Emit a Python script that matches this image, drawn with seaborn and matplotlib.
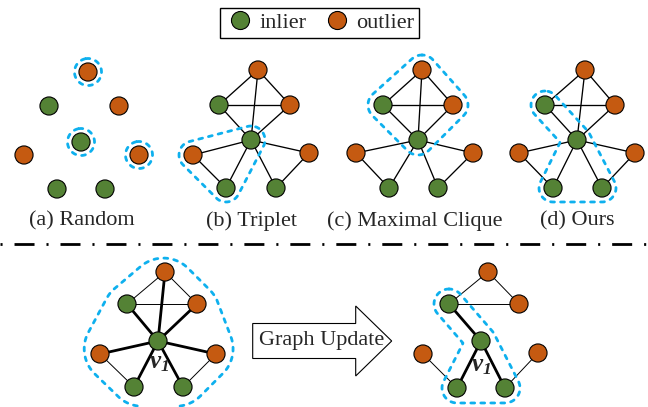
import numpy as np
import pandas as pd
import matplotlib
matplotlib.use("Agg")
import matplotlib.pyplot as plt
import seaborn as sns
from matplotlib.lines import Line2D
from matplotlib.patches import FancyArrow
from matplotlib.path import Path

# node order in every graph:
# top, upper-left, upper-right, centre, left, right, bottom-left, bottom-right
node_kind = ["outlier", "inlier", "outlier", "inlier", "outlier", "outlier", "inlier", "inlier"]

random_x = [88, 49, 119, 81, 24, 139, 57, 105]
random_y = [72, 106, 106, 142, 155, 155, 189, 189]
triplet_x = [258, 219, 290, 251, 193, 309, 226, 276]
triplet_y = [70, 105, 105, 140, 155, 153, 188, 188]
clique_x = [422, 383, 453, 418, 356, 473, 389, 438]
clique_y = [70, 105, 105, 140, 153, 153, 188, 188]
ours_x = [585, 545, 615, 577, 519, 635, 553, 602]
ours_y = [70, 105, 105, 140, 153, 153, 188, 188]
before_x = [165, 127, 197, 158, 100, 216, 134, 183]
before_y = [272, 304, 304, 341, 354, 354, 387, 387]
after_x = [488, 449, 519, 481, 423, 538, 457, 505]
after_y = [272, 304, 304, 341, 354, 353, 388, 388]

full_edges = [(0, 1), (0, 2), (1, 2), (0, 3), (1, 3), (2, 3), (3, 4), (3, 5), (3, 6), (3, 7), (4, 6), (5, 7)]
after_thin_edges = [(0, 1), (0, 2), (1, 2), (4, 6), (5, 7)]
after_bold_edges = [(1, 3), (3, 6), (3, 7)]

# node groups wrapped by the dashed outline (1 = point, 2 = segment, 3+ = filled polygon)
random_sel = [(0,), (3,), (5,)]
triplet_sel = [(3, 4, 6)]
clique_sel = [(0, 1, 3, 2)]
ours_sel = [(1, 3), (3, 6, 7)]
before_sel = [(0, 1, 4, 6, 7, 5, 2)]
after_sel = [(1, 3), (3, 6, 7)]

panel_labels = ["(a) Random", "(b) Triplet", "(c) Maximal Clique", "(d) Ours"]
legend_labels = ["inlier", "outlier"]

GREEN = "#548235"
ORANGE = "#C55A11"
BLUE = "#0EB0EE"
W, H = 648, 407

sns.set_style("white")
plt.rcParams["font.family"] = ["Liberation Serif", "DejaVu Serif"]
plt.rcParams["mathtext.fontset"] = "custom"
plt.rcParams["mathtext.rm"] = "Liberation Serif"
plt.rcParams["mathtext.it"] = "Liberation Serif:italic"
plt.rcParams["mathtext.bf"] = "Liberation Serif:bold"
plt.rcParams["mathtext.bfit"] = "Liberation Serif:italic:bold"

fig = plt.figure(figsize=(W / 100, H / 100), dpi=100)
ax = fig.add_axes([0, 0, 1, 1])

graphs = [(random_x, random_y), (triplet_x, triplet_y), (clique_x, clique_y),
          (ours_x, ours_y), (before_x, before_y), (after_x, after_y)]

# edges
for xs, ys in graphs[1:4]:
    for i, j in full_edges:
        ax.plot([xs[i], xs[j]], [ys[i], ys[j]], color="black", lw=0.95, zorder=1)
for i, j in full_edges:
    bold = 3 in (i, j)
    ax.plot([before_x[i], before_x[j]], [before_y[i], before_y[j]], color="black",
            lw=2.0 if bold else 0.7, zorder=1)
for i, j in after_thin_edges:
    ax.plot([after_x[i], after_x[j]], [after_y[i], after_y[j]], color="black", lw=0.7, zorder=1)
for i, j in after_bold_edges:
    ax.plot([after_x[i], after_x[j]], [after_y[i], after_y[j]], color="black", lw=2.0, zorder=1)

# dashed outlines: contour of the distance to the selected nodes
gx, gy = np.meshgrid(np.arange(0, W, 1.0), np.arange(0, H, 1.0))
flat = np.c_[gx.ravel(), gy.ravel()]


def seg_dist(a, b):
    dx, dy = b[0] - a[0], b[1] - a[1]
    t = np.clip(((gx - a[0]) * dx + (gy - a[1]) * dy) / (dx * dx + dy * dy), 0, 1)
    return np.hypot(gx - (a[0] + t * dx), gy - (a[1] + t * dy))


def part_dist(pts):
    if len(pts) == 1:
        return np.hypot(gx - pts[0][0], gy - pts[0][1])
    if len(pts) == 2:
        return seg_dist(pts[0], pts[1])
    d = np.min([seg_dist(pts[k], pts[(k + 1) % len(pts)]) for k in range(len(pts))], axis=0)
    inside = Path(pts).contains_points(flat).reshape(gx.shape)
    d[inside] = 0
    return d


def outline(xs, ys, sel, r, shrink=1.0):
    # shrink < 1 pulls the polygon in and rounds it out with a bigger radius
    cx, cy = np.mean(xs), np.mean(ys)
    parts = [[(cx + shrink * (xs[k] - cx), cy + shrink * (ys[k] - cy)) for k in part] for part in sel]
    d = np.min([part_dist(p) for p in parts], axis=0)
    cs = ax.contour(gx, gy, d, levels=[r])
    for path in cs.get_paths():
        for poly in path.to_polygons(closed_only=False):
            ax.plot(poly[:, 0], poly[:, 1], color=BLUE, lw=2.0, linestyle=(0, (1.4, 2.2)),
                    dash_capstyle="round", zorder=2)
    cs.remove()


outline(random_x, random_y, random_sel, 13.5)
outline(triplet_x, triplet_y, triplet_sel, 14)
outline(clique_x, clique_y, clique_sel, 15)
outline(ours_x, ours_y, ours_sel, 14)
outline(before_x, before_y, before_sel, 35, shrink=0.68)
outline(after_x, after_y, after_sel, 15)

# nodes
nodes = pd.concat([pd.DataFrame({"x": xs, "y": ys, "kind": node_kind}) for xs, ys in graphs])
sns.scatterplot(data=nodes, x="x", y="y", hue="kind", palette={"inlier": GREEN, "outlier": ORANGE},
                s=170, edgecolor="black", linewidth=0.8, legend=False, zorder=4, ax=ax)

# panel captions
for (xs, ys), label in zip(graphs[:4], panel_labels):
    ax.text(np.mean([min(xs), max(xs)]), 221, label, fontsize=16, ha="center", va="center")

# separator
ax.axhline(244, color="black", lw=2.0, linestyle=(11.5, (7.2, 4.3, 0.75, 4.3)))

# arrow
ax.add_patch(FancyArrow(252.7, 341, 139, 0, width=35, head_width=70, head_length=36,
                        length_includes_head=True, fc="white", ec="black", lw=0.8, zorder=3))
ax.text(322, 341, "Graph Update", fontsize=16, ha="center", va="center", zorder=5)

# v1 labels
v1 = r"$\mathbfit{v}_{\mathbfit{1}}$"
ax.text(159, 363, v1, fontsize=18, ha="center", va="center", zorder=5)
ax.text(481, 366, v1, fontsize=18, ha="center", va="center", zorder=5)

# legend
handles = [Line2D([], [], ls="none", marker="o", ms=13, mfc=c, mec="black", mew=0.8)
           for c in (GREEN, ORANGE)]
leg = ax.legend(handles, legend_labels, loc="center", bbox_to_anchor=(319.5 / W, 1 - 23 / H),
                ncol=2, fontsize=16, frameon=True, fancybox=False, framealpha=1, edgecolor="black",
                borderpad=0.2, handlelength=1.4, handletextpad=0.16, columnspacing=0.7)
leg.get_frame().set_linewidth(1.0)

ax.set_xlim(0, W)
ax.set_ylim(H, 0)
ax.axis("off")

fig.savefig("out.png", dpi=100)
plt.close(fig)
